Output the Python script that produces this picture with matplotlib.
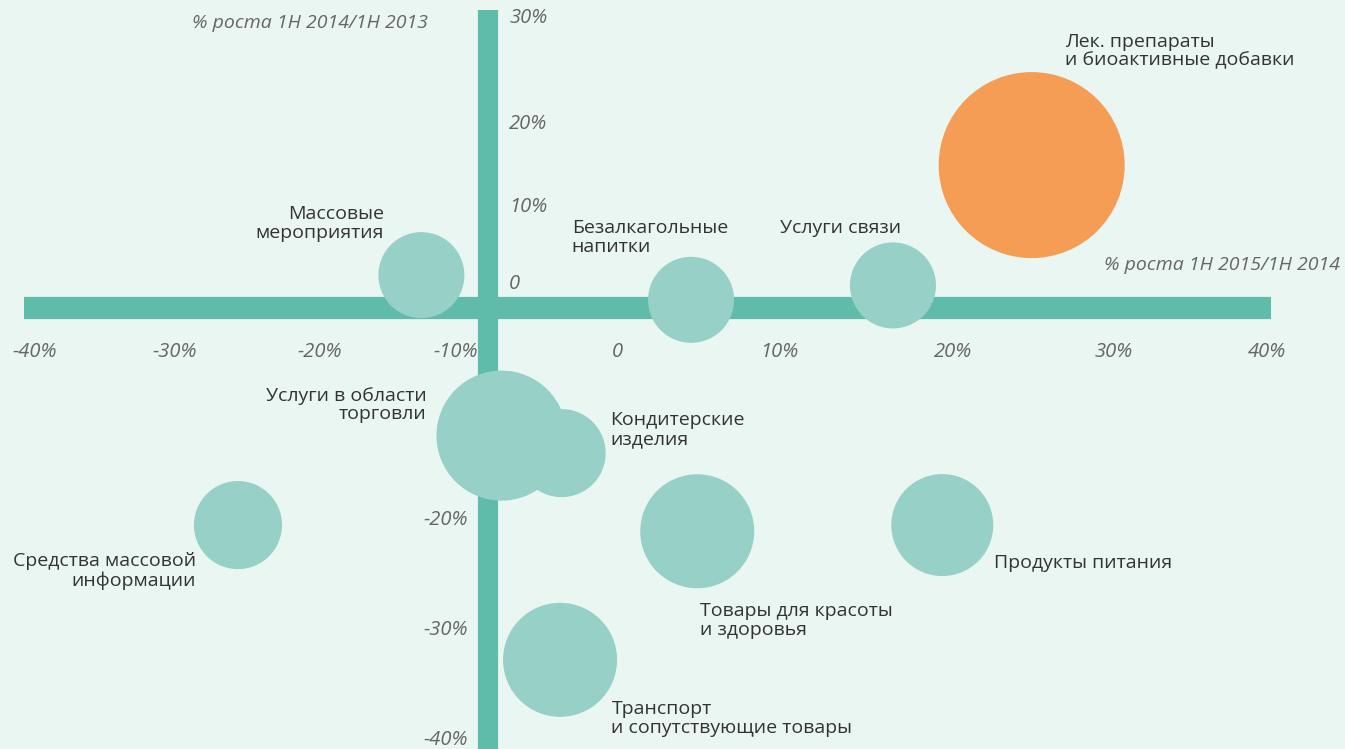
import matplotlib
matplotlib.use("Agg")
from matplotlib import pyplot as plt

# growth 1H2015/1H2014 (x, %) and 1H2014/1H2013 (y, %), bubble weight
names = [
    "Лек. препараты\nи биоактивные добавки",
    "Массовые\nмероприятия",
    "Безалкагольные\nнапитки",
    "Услуги связи",
    "Услуги в области\nторговли",
    "Кондитерские\nизделия",
    "Средства массовой\nинформации",
    "Товары для красоты\nи здоровья",
    "Продукты питания",
    "Транспорт\nи сопутствующие товары",
]
growth_x = [24.7, -14.9, 2.6, 15.7, -9.7, -5.8, -26.8, 3.0, 18.9, -5.9]
growth_y = [15.7, 5.0, 2.6, 4.0, -10.6, -12.3, -19.3, -19.9, -19.3, -32.4]
weight = [86.5, 18.5, 18.5, 18.5, 42.3, 19.4, 19.4, 32.5, 26.0, 32.5]

x_ticks = ["-40%", "-30%", "-20%", "-10%", "0", "10%", "20%", "30%", "40%"]
y_ticks = ["30%", "20%", "10%", "0", "-20%", "-30%", "-40%"]

# layout (positions of labels, kept apart from the data)
x_tick_pos = [-40.0, -30.9, -21.5, -12.7, -2.2, 8.3, 19.6, 30.0, 40.0]
y_tick_pos = [30.0, 19.7, 11.6, 4.1, -18.8, -29.5, -40.2]
label_off = [(24, 82), (-27, 37), (-86, 45), (-81, 41), (-54, 22),
             (35, 17), (-30, -33), (2, -64), (37, -27), (37, -42)]
label_ha = ["left", "right", "left", "left", "right",
            "left", "right", "left", "left", "left"]

bg = "#e9f6f2"
teal = "#5fbcab"
bubble = "#97d0c7"
orange = "#f59d55"

plt.rcParams["font.family"] = ["Open Sans", "DejaVu Sans"]

fig = plt.figure(figsize=(13.45, 7.49), dpi=100, facecolor=bg)
ax = fig.add_axes([0, 0, 1, 1])
ax.set_facecolor(bg)
ax.set_xlim(-42.24, 45.03)
ax.set_ylim(-41.07, 31.75)
ax.axis("off")

# cross of axes
ax.plot([-40.7, 40.2], [1.8, 1.8], color=teal, lw=16, solid_capstyle="butt", zorder=1)
ax.plot([-10.58, -10.58], [30.8, -41.5], color=teal, lw=14.5, solid_capstyle="butt", zorder=1)

colors = [orange] + [bubble] * (len(names) - 1)
sizes = [w * (2 * 0.72 * 10) ** 2 for w in weight]
ax.scatter(growth_x, growth_y, s=sizes, c=colors, linewidths=0, zorder=2)

for n, x, y, off, ha in zip(names, growth_x, growth_y, label_off, label_ha):
    ax.annotate(n, (x, y), xytext=off, textcoords="offset points",
                ha=ha, va="center", multialignment=ha, fontsize=14,
                color="#333333", linespacing=1.06, zorder=3)

tick_kw = dict(va="center", fontsize=14.5, style="italic", color="#666666")
for t, x in zip(x_ticks, x_tick_pos):
    ax.text(x, -2.45, t, ha="center", **tick_kw)
for t, y in zip(y_ticks, y_tick_pos):
    if y > 0:
        ax.text(-9.2, y, t, ha="left", **tick_kw)
    else:
        ax.text(-11.85, y, t, ha="right", **tick_kw)

ax.text(-22.1, 29.5, "% роста 1H 2014/1H 2013", ha="center", va="center",
        fontsize=14, style="italic", color="#666666")
ax.text(44.7, 6.0, "% роста 1H 2015/1H 2014", ha="right", va="center",
        fontsize=14, style="italic", color="#666666")

plt.savefig("out.png", dpi=100, facecolor=bg)
